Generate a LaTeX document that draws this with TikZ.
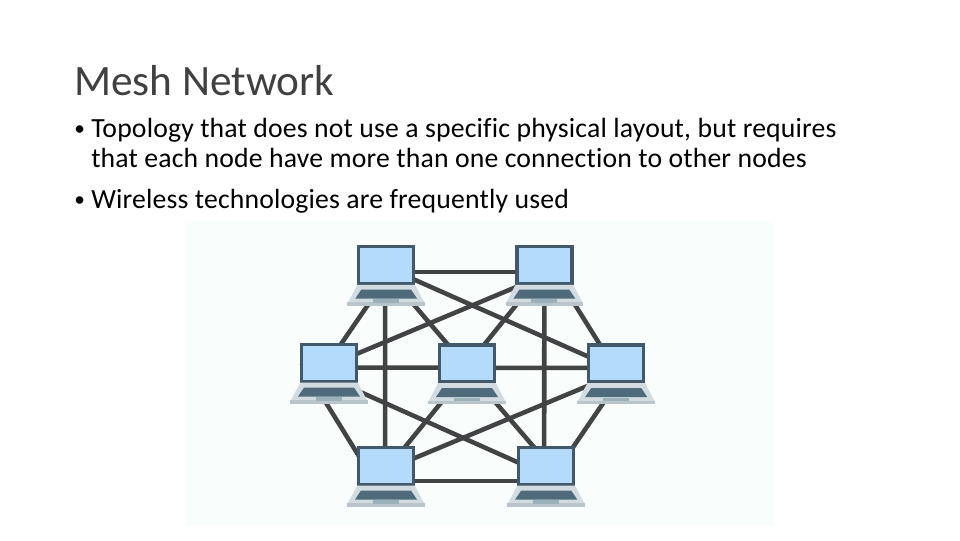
\documentclass[tikz,border=0pt]{standalone}
\usepackage{fontspec}
\setmainfont[Ligatures=NoCommon,LetterSpace=0.6]{Carlito}
\newfontfamily\titlefont[Ligatures=NoCommon]{Carlito}
\usetikzlibrary{positioning}
\pgfdeclarelayer{links}
\pgfdeclarelayer{panel}
\pgfsetlayers{panel,links,main}
\definecolor{frame}{HTML}{41596B}
\definecolor{glass}{HTML}{B5DBFB}
\definecolor{deck}{HTML}{D2DBDF}
\definecolor{lip}{HTML}{B9C5CB}
\definecolor{keys}{HTML}{4F6B7B}
\definecolor{pad}{HTML}{9AB0BB}
\definecolor{wire}{HTML}{414345}
\definecolor{mint}{HTML}{F9FDFB}

\begin{document}
\begin{tikzpicture}[
    x=0.75pt, y=-0.75pt,
    screen/.style={rectangle, draw=frame, fill=glass, line width=2.6pt, outer sep=0pt,
                   minimum width=41.25pt, minimum height=27.75pt, inner sep=0pt},
    link/.style={draw=wire, line width=3.4pt},
    heading/.style={anchor=base west, inner sep=0pt, text=black!75, font=\titlefont\fontsize{32.5}{38}\selectfont},
    body/.style={anchor=base west, inner sep=0pt, text=black, font=\fontsize{20.8}{24}\selectfont},
    dotmark/.style={anchor=base west, inner sep=0pt, text=black, font=\fontsize{16}{20}\selectfont}
]
\useasboundingbox (0,0) rectangle (960,540);

\begin{pgfonlayer}{panel}
\fill[white] (0,0) rectangle (960,540);
\fill[mint] (185,221) rectangle (774,526);
\end{pgfonlayer}

\node[heading] (title) at (74,95) {Mesh Network};
\node[dotmark] (dot1) at (74,135) {•};
\node[body] (line1) at (91,137) {Topology that does not use a specific physical layout, but requires};
\node[body] (line2) at (91,167) {that each node have more than one connection to other nodes};
\node[dotmark] (dot2) at (74,206) {•};
\node[body] (line3) at (91,208) {Wireless technologies are frequently used};

\node[screen] (tl) at (386.2,265.2) {};
\node[screen] (tr) at (544.3,265.2) {};
\node[screen] (lf) at (329,363) {};
\node[screen] (md) at (467,363.5) {};
\node[screen] (rt) at (616.2,363.5) {};
\node[screen] (bl) at (386,466) {};
\node[screen] (br) at (546.2,466) {};

\foreach \pc in {tl,tr,lf,md,rt,bl,br} {
  \fill[deck] ([shift={(-28.8,19.6)}]\pc.center) -- ([shift={(28.8,19.6)}]\pc.center)
    -- ([shift={(38.5,38)}]\pc.center) -- ([shift={(-38.5,38)}]\pc.center) -- cycle;
  \fill[lip] ([shift={(-38.8,37)}]\pc.center) rectangle ([shift={(38.8,40.5)}]\pc.center);
  \fill[keys] ([shift={(-25,24.5)}]\pc.center) -- ([shift={(25,24.5)}]\pc.center)
    -- ([shift={(31,33.5)}]\pc.center) -- ([shift={(-31,33.5)}]\pc.center) -- cycle;
  \fill[pad] ([shift={(-13,34)}]\pc.center) rectangle ([shift={(13,37.5)}]\pc.center);
}

\begin{pgfonlayer}{links}
\draw[link] ([shift={(0,7)}]tl.center) -- ([shift={(0,7)}]tr.center);
\draw[link] ([shift={(9,0)}]tl.center) -- ([shift={(-1,0)}]lf.center);
\draw[link] ([shift={(-6,0)}]tl.center) -- ([shift={(-3,0)}]md.center);
\draw[link] ([shift={(0,2)}]tl.center) -- ([shift={(0,5.5)}]rt.center);
\draw[link] ([shift={(-1,0)}]tl.center) -- ([shift={(-1,0)}]bl.center);

\draw[link] ([shift={(0,10)}]tr.center) -- ([shift={(0,2.5)}]lf.center);
\draw[link] ([shift={(4,0)}]tr.center) -- ([shift={(2,0)}]md.center);
\draw[link] ([shift={(6,0)}]tr.center) -- ([shift={(-4.5,0)}]rt.center);
\draw[link] (tr.center) -- ([shift={(-2,0)}]br.center);

\draw[link] ([shift={(0,4.5)}]lf.center) -- ([shift={(0,4.5)}]rt.center);
\draw[link] (lf.west) -- ([shift={(-21,0)}]bl.center);
\draw[link] ([shift={(0,15)}]lf.center) -- ([shift={(0,9)}]br.center);

\draw[link] ([shift={(6,0)}]md.center) -- ([shift={(3.5,0)}]bl.center);
\draw[link] ([shift={(-5,0)}]md.center) -- ([shift={(4,0)}]br.center);

\draw[link] ([shift={(0,10.5)}]rt.center) -- ([shift={(0,4)}]bl.center);
\draw[link] ([shift={(14,0)}]rt.center) -- ([shift={(14,0)}]br.center);

\draw[link] ([shift={(0,15)}]bl.center) -- ([shift={(0,15)}]br.center);
\end{pgfonlayer}
\end{tikzpicture}
\end{document}
